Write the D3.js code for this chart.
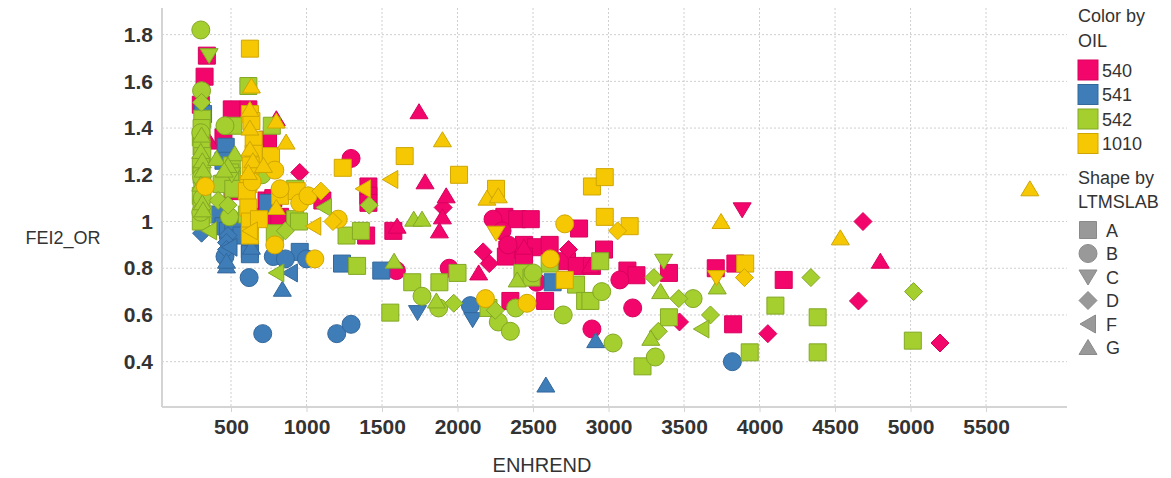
<!DOCTYPE html>
<html>
<head>
<meta charset="utf-8">
<script src="https://cdn.jsdelivr.net/npm/d3@7"></script>
<style>
  html, body { margin: 0; padding: 0; background: #fff; }
  svg { display: block; font-family: "Liberation Sans", Arial, sans-serif; }
</style>
</head>
<body>
<svg id="chart" width="1171" height="478"></svg>
<script>
// Rows: [ENHREND, FEI2_OR, LTMSLAB]
const oil540 = [
  [340,1.71,"A"],[325,1.62,"A"],[300,1.50,"A"],[505,1.48,"A"],[615,1.48,"A"],[450,1.36,"A"],
  [745,1.35,"A"],[510,1.13,"A"],[735,1.09,"A"],[780,1.10,"A"],[705,1.02,"A"],[825,1.02,"A"],
  [1105,1.09,"A"],[1410,1.15,"A"],[1410,1.11,"A"],[1410,1.08,"A"],[1395,0.94,"A"],[1575,0.96,"A"],
  [2310,1.02,"A"],[2395,1.01,"A"],[2485,1.01,"A"],[2805,0.97,"A"],[2330,0.88,"A"],[2440,0.90,"A"],
  [2520,0.89,"A"],[2610,0.90,"A"],[2440,0.85,"A"],[2320,0.85,"A"],[2725,0.83,"A"],[2790,0.81,"A"],
  [2350,0.66,"A"],[2580,0.66,"A"],[2970,0.88,"A"],[2890,0.81,"A"],[3125,0.79,"A"],[3185,0.77,"A"],
  [3400,0.78,"A"],[3710,0.80,"A"],[3840,0.82,"A"],[4160,0.75,"A"],[3825,0.56,"A"],
  [1295,1.27,"B"],[2235,1.01,"B"],[2295,0.96,"B"],[2335,0.90,"B"],[1945,0.80,"B"],[1595,0.79,"B"],
  [2525,0.74,"B"],[3075,0.75,"B"],[3160,0.63,"B"],[2890,0.54,"B"],
  [3885,1.05,"C"],
  [955,1.21,"D"],[1905,1.06,"D"],[2170,0.87,"D"],[2210,0.82,"D"],[2735,0.88,"D"],[4685,1.00,"D"],
  [4655,0.66,"D"],[3470,0.57,"D"],[4055,0.52,"D"],[5195,0.48,"D"],
  [1745,1.47,"G"],[1785,1.17,"G"],[1925,1.11,"G"],[1900,1.02,"G"],[1880,0.96,"G"],[1600,0.98,"G"],
  [2140,0.78,"G"],[2440,0.89,"G"],[2880,0.81,"G"],[4800,0.83,"G"],[800,1.44,"G"],[360,1.34,"G"]
];
const oil541 = [
  [315,1.46,"A"],[465,1.32,"A"],[450,1.26,"A"],[425,1.03,"A"],[450,0.98,"A"],[480,0.96,"A"],
  [515,1.00,"A"],[570,0.94,"A"],[625,0.88,"A"],[625,0.86,"A"],[745,1.08,"A"],[955,0.87,"A"],
  [1235,0.82,"A"],[1495,0.79,"A"],[2630,0.74,"A"],
  [460,0.85,"B"],[620,0.76,"B"],[780,0.85,"B"],[860,0.84,"B"],[1000,0.84,"B"],[710,0.52,"B"],
  [1200,0.52,"B"],[1295,0.56,"B"],[2085,0.64,"B"],[3820,0.40,"B"],
  [1735,0.61,"C"],[2100,0.58,"C"],
  [305,0.95,"D"],[480,0.94,"D"],[470,0.91,"D"],[470,0.88,"D"],
  [890,0.78,"F"],[490,0.89,"F"],
  [470,0.81,"G"],[470,0.83,"G"],[840,0.71,"G"],[635,0.89,"G"],[2915,0.49,"G"],[2585,0.30,"G"]
];
const oil542 = [
  [310,1.44,"A"],[305,1.40,"A"],[300,1.36,"A"],[305,1.32,"A"],[310,1.28,"A"],[300,1.24,"A"],
  [305,1.20,"A"],[310,1.15,"A"],[300,1.11,"A"],[305,1.06,"A"],[315,1.03,"A"],[300,1.00,"A"],
  [615,1.58,"A"],[770,1.41,"A"],[515,1.41,"A"],[505,1.24,"A"],[505,1.18,"A"],[495,1.21,"A"],
  [438,1.16,"A"],[515,1.14,"A"],[605,1.03,"A"],
  [925,1.14,"A"],[925,1.01,"A"],[790,0.95,"A"],[950,1.00,"A"],[1265,0.94,"A"],[1360,0.96,"A"],
  [1335,0.81,"A"],[1555,0.61,"A"],[1700,0.74,"A"],[1880,0.74,"A"],[2000,0.78,"A"],[2205,0.63,"A"],
  [2430,0.78,"A"],[2490,0.76,"A"],[2610,0.82,"A"],[2785,0.73,"A"],[2845,0.66,"A"],[2945,0.83,"A"],
  [2880,0.66,"A"],[3225,0.38,"A"],[3400,0.59,"A"],[3935,0.44,"A"],[4105,0.64,"A"],[4385,0.59,"A"],
  [4385,0.44,"A"],[5015,0.49,"A"],
  [300,1.82,"B"],[305,1.56,"B"],[460,1.41,"B"],[300,1.38,"B"],[305,1.19,"B"],[490,1.02,"B"],
  [705,1.20,"B"],[310,1.10,"B"],[300,1.04,"B"],[1765,0.68,"B"],[1875,0.63,"B"],[2270,0.57,"B"],
  [2350,0.53,"B"],[2385,0.63,"B"],[2500,0.78,"B"],[2700,0.60,"B"],[2955,0.70,"B"],[3030,0.48,"B"],
  [3310,0.42,"B"],[3560,0.67,"B"],
  [355,1.71,"C"],[505,1.20,"C"],[3365,0.83,"C"],
  [305,1.51,"D"],[415,1.09,"D"],[480,1.07,"D"],[860,0.96,"D"],[1415,1.07,"D"],[1975,0.65,"D"],
  [2250,0.62,"D"],[3300,0.76,"D"],[3465,0.67,"D"],[3675,0.60,"D"],[3330,0.53,"D"],[4340,0.76,"D"],
  [5020,0.70,"D"],
  [355,0.96,"F"],[800,0.78,"F"],[1115,1.06,"F"],[3615,0.54,"F"],
  [305,1.37,"G"],[300,1.30,"G"],[310,1.26,"G"],[315,1.22,"G"],[300,1.16,"G"],[310,1.08,"G"],
  [315,1.05,"G"],[405,1.27,"G"],[525,1.29,"G"],[480,1.24,"G"],[455,1.22,"G"],[1580,0.83,"G"],
  [1710,1.01,"G"],[1765,1.01,"G"],[1860,0.66,"G"],[2395,0.75,"G"],[3345,0.70,"G"],[3720,0.72,"G"],
  [3280,0.50,"G"]
];
const oil1010 = [
  [625,1.74,"A"],[625,1.46,"A"],[635,1.43,"A"],[650,1.35,"A"],[650,1.29,"A"],[630,1.24,"A"],
  [615,1.16,"A"],[605,1.13,"A"],[615,1.06,"A"],[625,1.00,"A"],[625,0.94,"A"],[685,1.01,"A"],
  [765,1.28,"A"],[825,1.11,"A"],[935,1.13,"A"],[1240,1.23,"A"],[1650,1.28,"A"],[2010,1.20,"A"],
  [2255,1.14,"A"],[2890,1.15,"A"],[2975,1.19,"A"],[2975,1.02,"A"],[3140,0.98,"A"],[2710,0.75,"A"],
  [3905,0.82,"A"],
  [330,1.15,"B"],[640,1.17,"B"],[790,1.22,"B"],[825,1.14,"B"],[955,1.08,"B"],[1010,1.11,"B"],
  [1210,1.01,"B"],[790,0.90,"B"],[1055,0.84,"B"],[2185,0.67,"B"],[2460,0.65,"B"],[2615,0.84,"B"],
  [2710,0.99,"B"],
  [2255,0.95,"C"],[3715,0.76,"C"],
  [1095,1.13,"D"],[1175,1.00,"D"],[3060,0.96,"D"],[3900,0.76,"D"],
  [1555,1.18,"F"],[1375,1.14,"F"],[1045,0.98,"F"],[625,0.96,"F"],
  [635,1.58,"G"],[625,1.48,"G"],[625,1.40,"G"],[625,1.31,"G"],[645,1.26,"G"],[615,1.21,"G"],
  [715,1.24,"G"],[800,1.43,"G"],[865,1.34,"G"],[800,1.06,"G"],[1900,1.35,"G"],[2195,1.10,"G"],
  [2270,1.11,"G"],[3745,1.00,"G"],[4535,0.93,"G"],[5790,1.14,"G"]
];

const oils = ["540", "541", "542", "1010"];
const labs = ["A", "B", "C", "D", "F", "G"];
const xTicks = [500, 1000, 1500, 2000, 2500, 3000, 3500, 4000, 4500, 5000, 5500];
const yTicks = [0.4, 0.6, 0.8, 1.0, 1.2, 1.4, 1.6, 1.8];

const series = { "540": oil540, "541": oil541, "542": oil542, "1010": oil1010 };
const fill = { "540": "#f2066c", "541": "#3f7db8", "542": "#a4cf2f", "1010": "#f6c804" };
const edge = { "540": "#d9005d", "541": "#33689c", "542": "#83a824", "1010": "#cfa600" };

// Marker outlines, each drawn around the origin
const shapes = {
  A: { draw(c) { c.rect(-8.5, -8.5, 17, 17); } },
  B: { draw(c) { c.moveTo(9, 0); c.arc(0, 0, 9, 0, 2 * Math.PI); } },
  C: { draw(c) { c.moveTo(-9, -7); c.lineTo(9, -7); c.lineTo(0, 8); c.closePath(); } },
  D: { draw(c) { c.moveTo(0, -9); c.lineTo(9, 0); c.lineTo(0, 9); c.lineTo(-9, 0); c.closePath(); } },
  F: { draw(c) { c.moveTo(-8, 0); c.lineTo(7.5, -9); c.lineTo(7.5, 9); c.closePath(); } },
  G: { draw(c) { c.moveTo(0, -8); c.lineTo(9, 7); c.lineTo(-9, 7); c.closePath(); } }
};
const symbolPath = lab => d3.symbol().type(shapes[lab])();

const svg = d3.select("#chart");
const plot = { left: 162, right: 1067, top: 8, bottom: 407 };

const x = d3.scaleLinear().domain([43, 6036]).range([plot.left, plot.right]);
const y = d3.scaleLinear().domain([0.206, 1.914]).range([plot.bottom, plot.top]);

// Dotted grid
const grid = svg.append("g");
grid.selectAll("line.gx").data(xTicks).join("line")
  .attr("x1", d => x(d)).attr("x2", d => x(d))
  .attr("y1", plot.top).attr("y2", plot.bottom)
  .attr("stroke", "#cfcfcf").attr("stroke-width", 1).attr("stroke-dasharray", "2,2");
grid.selectAll("line.gy").data(yTicks).join("line")
  .attr("x1", plot.left).attr("x2", plot.right)
  .attr("y1", d => y(d)).attr("y2", d => y(d))
  .attr("stroke", "#cfcfcf").attr("stroke-width", 1).attr("stroke-dasharray", "2,2");

// Axes
const xAxis = d3.axisBottom(x).tickValues(xTicks).tickSize(5).tickPadding(7).tickFormat(d3.format("d"));
const yAxis = d3.axisLeft(y).tickValues(yTicks).tickSize(0).tickPadding(9).tickFormat(d => d === 1 ? "1" : d3.format(".1f")(d));

const gx = svg.append("g").attr("transform", `translate(0,${plot.bottom})`).call(xAxis);
const gy = svg.append("g").attr("transform", `translate(${plot.left},0)`).call(yAxis);
[gx, gy].forEach(g => {
  g.select(".domain").attr("stroke", "#d4d4d4").attr("stroke-width", 2);
  g.selectAll(".tick line").attr("stroke", "#d4d4d4");
  g.selectAll(".tick text").attr("fill", "#333").attr("font-size", 21).attr("font-weight", "bold")
    .attr("font-family", "'Liberation Sans', Arial, sans-serif");
});
gy.select(".domain").attr("d", `M0,${plot.top}V${plot.bottom}`);
gx.select(".domain").attr("d", `M${plot.left},0H${plot.right}`);

// Axis titles
svg.append("text").attr("x", 542).attr("y", 472).attr("text-anchor", "middle")
  .attr("font-size", 20).attr("fill", "#333").text("ENHREND");
svg.append("text").attr("x", 63).attr("y", 244).attr("text-anchor", "middle")
  .attr("font-size", 18).attr("fill", "#333").text("FEI2_OR");

// Points, one layer per oil
const marks = svg.append("g");
oils.forEach(oil => {
  marks.append("g").selectAll("path").data(series[oil]).join("path")
    .attr("d", d => symbolPath(d[2]))
    .attr("transform", d => `translate(${x(d[0])},${y(d[1])})`)
    .attr("fill", fill[oil]).attr("stroke", edge[oil]).attr("stroke-width", 1);
});

// Legend
const lg = svg.append("g").attr("font-size", 18).attr("fill", "#333");
lg.append("text").attr("x", 1078).attr("y", 22).text("Color by");
lg.append("text").attr("x", 1078).attr("y", 47).text("OIL");
oils.forEach((oil, i) => {
  const cy = 70 + i * 24.5;
  lg.append("rect").attr("x", 1078).attr("y", cy - 10).attr("width", 20).attr("height", 20)
    .attr("fill", fill[oil]).attr("stroke", edge[oil]);
  lg.append("text").attr("x", 1102).attr("y", cy + 6.5).text(oil);
});
lg.append("text").attr("x", 1078).attr("y", 184).text("Shape by");
lg.append("text").attr("x", 1078).attr("y", 208).text("LTMSLAB");
labs.forEach((lab, i) => {
  const cy = 230 + i * 23.5;
  lg.append("path").attr("d", symbolPath(lab)).attr("transform", `translate(1088,${cy})`)
    .attr("fill", "#999").attr("stroke", "#8a8a8a");
  lg.append("text").attr("x", 1106).attr("y", cy + 6.5).text(lab);
});
</script>
</body>
</html>
